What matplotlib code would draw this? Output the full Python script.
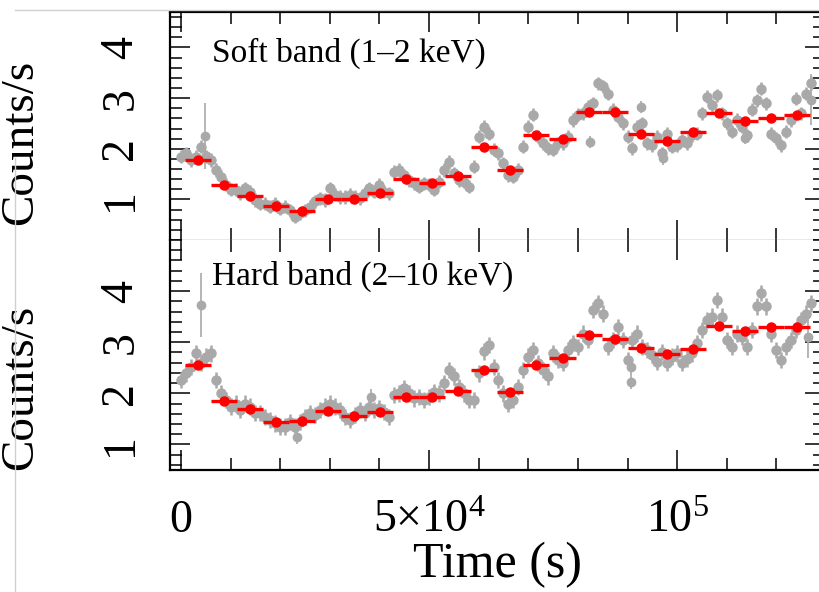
import numpy as np
import matplotlib
matplotlib.use("Agg")
import matplotlib.pyplot as plt
from matplotlib.lines import Line2D
from matplotlib.ticker import FixedLocator, FixedFormatter, MultipleLocator

plt.rcParams["font.family"] = ["Liberation Serif", "DejaVu Serif"]
plt.rcParams["mathtext.fontset"] = "custom"
plt.rcParams["mathtext.rm"] = "Liberation Serif"
plt.rcParams["mathtext.it"] = "Liberation Serif:italic"

# 1 ks light curve (s, counts/s)
t_lc = np.arange(0, 128000, 1000)
soft_rate = [1.84, 1.91, 1.78, 1.84, 2.04, 1.85, 1.78, 1.58, 1.45, 1.29,
             1.19, 1.19, 1.12, 1.22, 1.15, 0.99, 0.92, 0.92, 0.86, 0.92,
             0.82, 0.86, 0.79, 0.66, 0.73, 0.79, 0.86, 0.96, 1.02, 0.99,
             1.22, 1.09, 1.05, 1.05, 1.09, 1.05, 1.02, 1.12, 1.22, 1.15,
             1.29, 1.15, 1.12, 1.55, 1.58, 1.48, 1.38, 1.32, 1.25, 1.32,
             1.29, 1.19, 1.35, 1.58, 1.74, 1.52, 1.38, 1.35, 1.25, 1.65,
             2.24, 2.44, 2.30, 1.98, 1.91, 1.71, 1.48, 1.45, 1.58, 2.04,
             2.44, 2.67, 2.24, 2.11, 2.01, 1.98, 2.11, 2.11, 2.24, 2.57,
             2.67, 2.70, 2.83, 2.90, 3.29, 3.23, 3.09, 2.77, 2.63, 2.50,
             2.24, 2.01, 2.44, 2.50, 2.11, 2.07, 2.24, 1.91, 2.30, 2.04,
             2.07, 2.17, 2.11, 2.27, 2.30, 2.70, 3.03, 2.86, 3.06, 2.70,
             2.50, 2.34, 2.57, 2.44, 2.27, 2.77, 2.96, 3.19, 2.90, 2.30,
             2.21, 2.07, 2.34, 2.57, 2.99, 2.70, 3.09, 3.30]
hard_rate = [2.26, 2.39, 2.52, 2.78, 2.59, 2.72, 2.78, 2.26, 2.00, 1.87,
             1.74, 1.80, 1.67, 1.80, 1.74, 1.61, 1.61, 1.54, 1.48, 1.41,
             1.35, 1.35, 1.44, 1.35, 1.44, 1.54, 1.61, 1.58, 1.67, 1.74,
             1.80, 1.74, 1.67, 1.54, 1.48, 1.58, 1.67, 1.61, 1.74, 1.67,
             1.71, 1.64, 1.54, 1.97, 2.00, 2.10, 2.00, 1.90, 1.93, 1.87,
             1.93, 2.03, 2.00, 2.20, 2.46, 2.33, 2.13, 2.00, 1.87, 1.87,
             2.39, 2.82, 2.95, 2.52, 2.26, 2.00, 1.80, 1.87, 2.13, 2.46,
             2.72, 2.85, 2.59, 2.46, 2.33, 2.78, 2.65, 2.59, 2.85, 2.98,
             2.91, 3.17, 3.04, 3.63, 3.76, 3.56, 2.91, 3.04, 3.30, 3.04,
             2.65, 3.04, 3.17, 2.91, 2.85, 2.75, 2.62, 2.81, 2.59, 2.72,
             2.78, 2.59, 2.68, 2.78, 2.98, 3.24, 3.43, 3.50, 3.83, 3.50,
             3.04, 2.91, 3.17, 3.11, 2.91, 3.24, 3.70, 3.96, 3.70, 3.17,
             2.85, 2.65, 2.91, 3.04, 3.24, 3.43, 3.56, 3.76]
soft_err = 0.13
hard_err = 0.16

# isolated points with their own errors
soft_extra_t = [4800, 82500, 92700, 97200, 113700, 127000]
soft_extra_rate = [2.25, 2.14, 2.83, 1.81, 2.21, 2.97]
soft_extra_err = [0.65, 0.12, 0.12, 0.12, 0.12, 0.50]
hard_extra_t = [4000, 23300, 38400, 90700, 90700, 126400]
hard_extra_rate = [3.73, 1.15, 1.93, 2.52, 2.23, 3.10]
hard_extra_err = [0.63, 0.15, 0.15, 0.15, 0.15, 0.40]

# rebinned curve
bin_t = [3400, 8650, 13900, 19150, 24400, 29650, 34900, 40150, 45400, 50650,
         55900, 61150, 66400, 71650, 76900, 82150, 87400, 92650, 97900, 103150,
         108400, 113650, 118900, 124150]
bin_half = 2625
soft_bin = [1.78, 1.29, 1.06, 0.88, 0.77, 1.00, 1.01, 1.13, 1.40, 1.33,
            1.46, 2.03, 1.58, 2.27, 2.19, 2.72, 2.73, 2.29, 2.16, 2.34,
            2.71, 2.55, 2.60, 2.67]
hard_bin = [2.55, 1.85, 1.69, 1.43, 1.45, 1.66, 1.56, 1.64, 1.93, 1.93,
            2.05, 2.46, 2.02, 2.55, 2.69, 3.14, 3.06, 2.89, 2.77, 2.87,
            3.32, 3.22, 3.30, 3.29]
bin_err = 0.03

GRAY = "#a9a9a9"
RED = "#ff0000"

fig = plt.figure(figsize=(8.19, 5.92), dpi=100, facecolor="white")
ax_soft = fig.add_axes([0.2076, 0.5946, 0.7997, 0.3851])
ax_hard = fig.add_axes([0.2076, 0.2061, 0.7997, 0.3885])


def draw_panel(ax, rate, err, ex_t, ex_rate, ex_err, binned, ylim, label, label_y, text_y):
    ax.errorbar(t_lc, rate, yerr=err, fmt="o", color=GRAY, ms=6.5,
                mec=GRAY, elinewidth=1.8, capsize=0, zorder=2)
    ax.errorbar(ex_t, ex_rate, yerr=ex_err, fmt="o", color=GRAY, ms=6,
                mec=GRAY, elinewidth=1.2, capsize=0, zorder=2)
    ax.errorbar(bin_t, binned, xerr=bin_half, yerr=bin_err, fmt="o", color=RED,
                ms=6.5, mec=RED, elinewidth=2.4, capsize=0, zorder=3)

    ax.set_xlim(-2200, 129800)
    ax.set_ylim(*ylim)
    ax.xaxis.set_major_locator(FixedLocator([0, 50000, 100000]))
    ax.xaxis.set_minor_locator(MultipleLocator(10000))
    ax.yaxis.set_major_locator(FixedLocator([1, 2, 3, 4]))
    ax.yaxis.set_minor_locator(MultipleLocator(0.2))
    ax.tick_params(which="both", direction="in", top=True, right=True,
                   width=1.1, color="black")
    ax.tick_params(which="major", length=14.5)
    ax.tick_params(which="minor", length=8.5)
    ax.tick_params(axis="y", labelsize=33, pad=20, labelrotation=90)
    for tl in ax.get_yticklabels():
        tl.set_va("center")
    for sp in ax.spines.values():
        sp.set_linewidth(1.6)

    ax.set_ylabel("Counts/s", fontsize=34)
    ax.yaxis.set_label_coords(-0.195, label_y)
    ax.text(0.064, text_y, label, transform=ax.transAxes,
            fontsize=24, ha="left", va="center")


draw_panel(ax_soft, soft_rate, soft_err, soft_extra_t, soft_extra_rate,
           soft_extra_err, soft_bin, (0.2, 4.7), "Soft band (1–2 keV)", 0.43, 0.82)
draw_panel(ax_hard, hard_rate, hard_err, hard_extra_t, hard_extra_rate,
           hard_extra_err, hard_bin, (0.5, 5.0), "Hard band (2–10 keV)", 0.36, 0.84)

# shared boundary between the panels
ax_soft.spines["bottom"].set_color("#8c8c8c")
ax_soft.spines["bottom"].set_linewidth(1.0)
ax_hard.spines["top"].set_visible(False)
ax_soft.tick_params(axis="x", labelbottom=False)

ax_hard.xaxis.set_major_formatter(FixedFormatter(["0", r"5×10$^{4}$", r"10$^{5}$"]))
ax_hard.tick_params(axis="x", labelsize=33, pad=21)
ax_hard.set_xlabel("Time (s)", fontsize=36, labelpad=0)

# thin frame lines around the figure
fig.add_artist(Line2D([15 / 819, 1.0], [1 - 10 / 592] * 2, color="#d0d0d0", lw=1))
fig.add_artist(Line2D([15 / 819] * 2, [0, 1 - 158 / 592], color="#d0d0d0", lw=1))

fig.savefig("out.png", dpi=100, facecolor="white")
